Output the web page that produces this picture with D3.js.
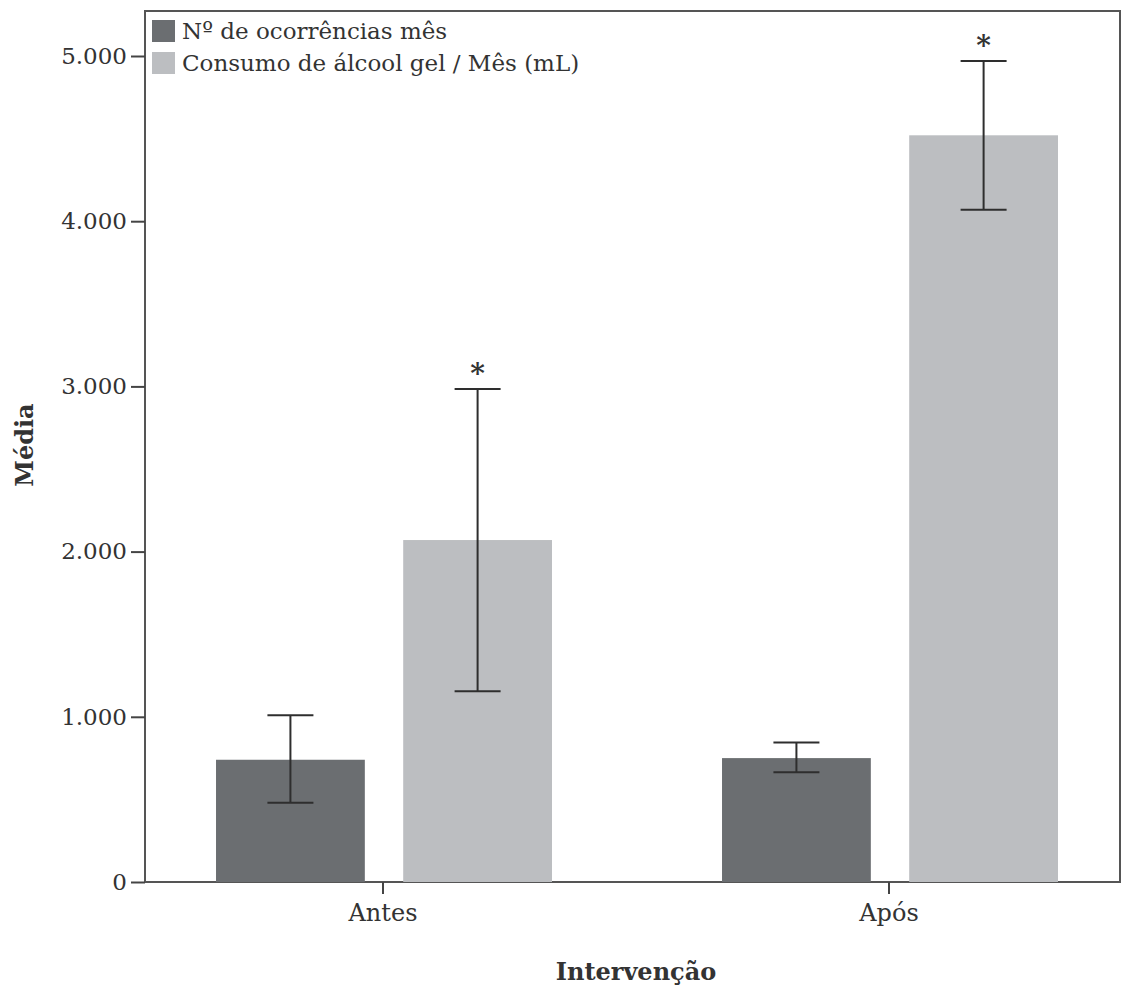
<!DOCTYPE html>
<html>
<head>
<meta charset="utf-8">
<script src="https://cdn.jsdelivr.net/npm/d3@7"></script>
<style>
  body { margin: 0; background: #fff; }
  svg text { font-family: "DejaVu Serif", "Liberation Serif", serif; fill: #333; }
</style>
</head>
<body>
<svg id="chart" width="1122" height="985"></svg>
<script>
// Chart data
const categories = ["Antes", "Após"];
const series = ["Nº de ocorrências mês", "Consumo de álcool gel / Mês (mL)"];
const means = [[740, 2070], [750, 4520]];      // per category, per series
const errLow = [[480, 1155], [665, 4070]];
const errHigh = [[1010, 2985], [845, 4970]];
const yTicks = [0, 1000, 2000, 3000, 4000, 5000];
const colors = ["#6b6e71", "#bcbec1"];

const svg = d3.select("#chart");
const plotLeft = 145, plotRight = 1120, plotTop = 11, plotBottom = 882;

const y = d3.scaleLinear().domain([0, 5000]).range([plotBottom, 56]);
const x0 = d3.scaleBand().domain(categories).range([130, 1142]);
const x1 = d3.scaleBand().domain(series)
    .range([x0.bandwidth() * 0.17, x0.bandwidth() * 0.834])
    .paddingInner(0.205);

// Frame
svg.append("rect")
    .attr("x", plotLeft).attr("y", plotTop)
    .attr("width", plotRight - plotLeft).attr("height", plotBottom - plotTop)
    .attr("fill", "none").attr("stroke", "#555").attr("stroke-width", 2);

// Bars
const rows = categories.map((c, i) => series.map((s, j) => ({
    cat: c, ser: s, j, v: means[i][j], lo: errLow[i][j], hi: errHigh[i][j]
}))).flat();

const g = svg.append("g");
g.selectAll("rect.bar").data(rows).enter().append("rect")
    .attr("class", "bar")
    .attr("x", d => x0(d.cat) + x1(d.ser))
    .attr("y", d => y(d.v))
    .attr("width", x1.bandwidth())
    .attr("height", d => y(0) - y(d.v))
    .attr("fill", d => colors[d.j]);

// Error bars
const cap = 23;
const eb = g.selectAll("g.err").data(rows).enter().append("g")
    .attr("class", "err")
    .attr("transform", d => `translate(${x0(d.cat) + x1(d.ser) + x1.bandwidth() / 2},0)`)
    .attr("stroke", "#2e2e2e").attr("stroke-width", 2);
eb.append("line").attr("x1", 0).attr("x2", 0).attr("y1", d => y(d.hi)).attr("y2", d => y(d.lo));
eb.append("line").attr("x1", -cap).attr("x2", cap).attr("y1", d => y(d.hi)).attr("y2", d => y(d.hi));
eb.append("line").attr("x1", -cap).attr("x2", cap).attr("y1", d => y(d.lo)).attr("y2", d => y(d.lo));

// Asterisks on the alcohol gel series
g.selectAll("text.star").data(rows.filter(d => d.j === 1)).enter().append("text")
    .attr("class", "star")
    .attr("x", d => x0(d.cat) + x1(d.ser) + x1.bandwidth() / 2)
    .attr("y", d => y(d.hi) - 6)
    .attr("text-anchor", "middle")
    .attr("font-size", 28)
    .attr("font-weight", "bold")
    .text("*");

// Y axis
const fmt = d => d === 0 ? "0" : d3.format(",")(d).replace(/,/g, ".");
const yAxis = svg.append("g")
    .attr("transform", `translate(${plotLeft},0)`)
    .call(d3.axisLeft(y).tickValues(yTicks).tickSize(14).tickPadding(4).tickFormat(fmt));
yAxis.select(".domain").remove();
yAxis.selectAll("line").attr("stroke", "#444").attr("stroke-width", 2);
yAxis.selectAll("text").attr("font-size", 23).attr("fill", "#444")
    .style("font-family", "'DejaVu Serif', serif");

// X axis
const xAxis = svg.append("g")
    .attr("transform", `translate(0,${plotBottom})`)
    .call(d3.axisBottom(x0).tickSize(12).tickPadding(10));
xAxis.select(".domain").remove();
xAxis.selectAll("line").attr("stroke", "#444").attr("stroke-width", 2);
xAxis.selectAll("text").attr("font-size", 24).attr("fill", "#444")
    .style("font-family", "'DejaVu Serif', serif");

// Axis titles
svg.append("text")
    .attr("transform", `translate(33,445) rotate(-90)`)
    .attr("text-anchor", "middle")
    .attr("font-size", 24).attr("font-weight", "bold")
    .text("Média");
svg.append("text")
    .attr("x", 636).attr("y", 980)
    .attr("text-anchor", "middle")
    .attr("font-size", 24).attr("font-weight", "bold")
    .text("Intervenção");

// Legend
const legend = svg.append("g").attr("transform", "translate(152,20)");
const li = legend.selectAll("g").data(series).enter().append("g")
    .attr("transform", (d, i) => `translate(0,${i * 32})`);
li.append("rect").attr("width", 23).attr("height", 22).attr("fill", (d, i) => colors[i]);
li.append("text").attr("x", 30).attr("y", 19)
    .attr("font-size", 23)
    .text(d => d);
</script>
</body>
</html>
